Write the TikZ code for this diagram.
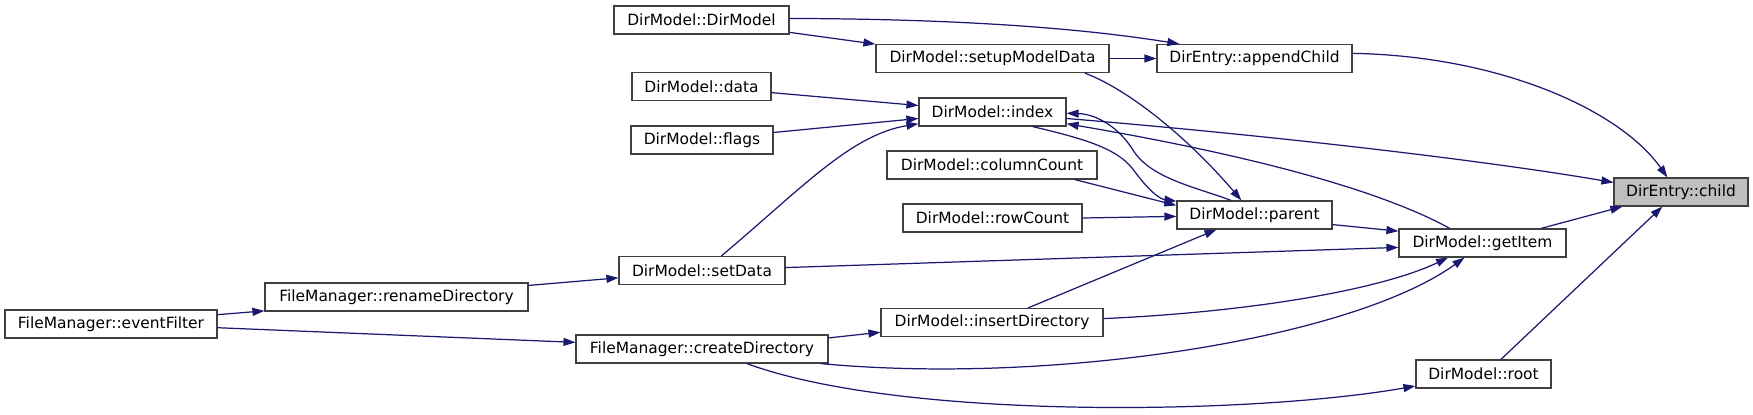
\documentclass[tikz,border=0pt]{standalone}
\usepackage{fontspec}
\setsansfont{DejaVu Sans}
\usetikzlibrary{arrows.meta}
\definecolor{cedge}{HTML}{191970}
\definecolor{cborder}{HTML}{404040}
\definecolor{chigh}{HTML}{BFBFBF}
\tikzset{
  every picture/.style={font=\sffamily\fontsize{8.8}{10}\selectfont},
  fn/.style={draw=cborder, fill=white, line width=0.7pt, inner sep=0pt, minimum height=0.56cm},
  call/.style={-{Triangle[length=0.24cm, width=0.16cm]}, draw=cedge, line width=0.7pt},
}
\begin{document}
\begin{tikzpicture}[x=0.02cm, y=-0.02cm]
  \useasboundingbox (0,0) rectangle (1753,415);
  % name/x/y/width/label
  \foreach \nm/\cx/\cy/\bw/\lbl in {
      eventFilter/111/324/4.24/FileManager::eventFilter,
      renameDirectory/396.5/297/5.26/FileManager::renameDirectory,
      createDirectory/702/349/5.04/FileManager::createDirectory,
      setData/702/270.5/3.32/DirModel::setData,
      dirModel/701.5/20/3.5/DirModel::DirModel,
      data/701.5/86.5/2.78/DirModel::data,
      flags/702/140/2.84/DirModel::flags,
      setupModelData/992.5/58.5/4.66/DirModel::setupModelData,
      index/992.5/112/2.94/DirModel::index,
      columnCount/992/165/4.2/DirModel::columnCount,
      rowCount/992.5/218/3.58/DirModel::rowCount,
      insertDirectory/992/322.5/4.44/DirModel::insertDirectory,
      appendChild/1254.5/58.5/3.9/DirEntry::appendChild,
      parent/1254.5/215/3.1/DirModel::parent,
      getItem/1482.5/243/3.34/DirModel::getItem,
      root/1483.5/374/2.7/DirModel::root}
    \node[fn, minimum width=\bw cm] (\nm) at (\cx,\cy) {\lbl};
  \node[fn, fill=chigh, minimum width=2.68cm] (child) at (1681,192) {DirEntry::child};

  \foreach \a/\b in {eventFilter.5/renameDirectory.-174, eventFilter.-2/createDirectory.177,
      renameDirectory.5/setData.-175, createDirectory.5/insertDirectory.-175,
      setData.2/getItem.-177, data.-5/index.175, flags.6/index.-175,
      dirModel.-8/setupModelData.173, setupModelData.east/appendChild.west,
      columnCount.-10/parent.173, rowCount.east/parent.-179, insertDirectory.22/parent.-159,
      parent.-7/getItem.172, getItem.14/child.-166, root.40/child.-142}
    \draw[call] (\a) -- (\b);

  \draw[call] (createDirectory.-7) .. controls (1050,385) and (1350,340) .. (getItem.-141);
  \draw[call] (createDirectory.-18) .. controls (900,420) and (1250,415) .. (root.-170);
  \draw[call] (setData.37) .. controls (800,190) and (850,135) .. (index.-171);
  \draw[call] (dirModel.1) .. controls (1000,19) and (1110,33) .. (appendChild.169);
  \draw[call] (setupModelData.-9) .. controls (1130,90) and (1190,140) .. (parent.132);
  \draw[call] (index.-20) .. controls (1090,140) and (1120,150) .. (1135,172)
    .. controls (1150,192) and (1160,199) .. (parent.170);
  \draw[call] (parent.148) .. controls (1195,187) and (1150,178) .. (1133,150)
    .. controls (1118,126) and (1095,114) .. (index.-1);
  \draw[call] (insertDirectory.2) .. controls (1250,312) and (1380,290) .. (getItem.-157);
  \draw[call] (index.-5) .. controls (1300,138) and (1500,163) .. (child.172);
  \draw[call] (getItem.156) .. controls (1380,190) and (1250,155) .. (index.-9);
  \draw[call] (appendChild.3) .. controls (1500,56) and (1620,110) .. (child.133);
\end{tikzpicture}
\end{document}
